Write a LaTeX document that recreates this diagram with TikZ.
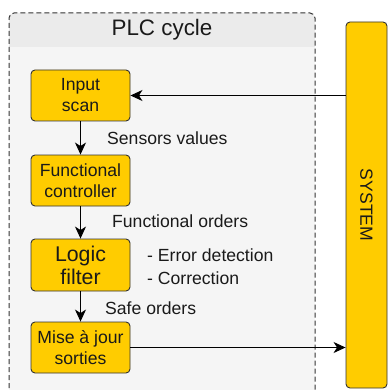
\documentclass[tikz,border=0pt]{standalone}
\usepackage{fontspec}
\setmainfont{Liberation Sans}
\usetikzlibrary{arrows.meta}
\definecolor{boxfill}{HTML}{FFCC00}
\definecolor{boxline}{HTML}{333333}
\definecolor{txt}{HTML}{1A1A1A}
\definecolor{headfill}{HTML}{EBEBEB}
\definecolor{bodyfill}{HTML}{F5F5F5}
\tikzset{
  stepbox/.style={draw=boxline, fill=boxfill, rounded corners=4pt, line width=0.9pt,
    minimum width=99pt, minimum height=51pt, inner sep=0pt, align=center,
    text=txt, font=\fontsize{17.6}{21}\selectfont},
  lbl/.style={anchor=west, inner sep=0pt, text=txt, font=\fontsize{17.6}{23}\selectfont, align=left},
  flow/.style={draw=black, line width=1pt, -{Stealth[length=12pt,width=11pt,inset=3.5pt]}},
}
\begin{document}
\begin{tikzpicture}[x=1pt,y=-1pt]
\useasboundingbox (0,0) rectangle (388,390);
\clip (0,0) rectangle (388,390);
% container
\fill[bodyfill, rounded corners=5pt] (9,13) rectangle (315,420);
\fill[headfill, rounded corners=5pt] (9,13) -- (315,13) -- (315,47) -- (9,47) -- cycle;
\fill[headfill] (9,25) rectangle (315,47);
\draw[black!80, line width=1pt, dash pattern=on 5pt off 3pt, rounded corners=5pt]
  (9,420) -- (9,13) -- (315,13) -- (315,420);
\node[text=txt, font=\fontsize{22.4}{26}\selectfont, inner sep=0pt] (title) at (162,30) {PLC cycle};
% boxes
\node[stepbox] (in) at (80.5,95.5) {Input\\scan};
\node[stepbox] (fc) at (80.5,180.5) {Functional\\controller};
\node[stepbox, minimum height=52pt, font=\fontsize{21.3}{23}\selectfont] (lf) at (80.5,265) {Logic\\filter};
\node[stepbox] (ms) at (80.5,347.5) {Mise à jour\\sorties};
\node[draw=boxline, fill=boxfill, rounded corners=4pt, line width=0.9pt,
  minimum width=366pt, minimum height=41pt, inner sep=0pt, rotate=-90,
  text=txt, font=\fontsize{17.6}{21}\selectfont] (sys) at (366.5,205) {SYSTEM};
% arrows
\draw[flow] (in.south) -- (fc.north);
\draw[flow] (fc.south) -- (lf.north);
\draw[flow] (lf.south) -- (ms.north);
\coordinate (sysin) at (sys.south |- in.east);
\coordinate (sysout) at (sys.south |- ms.east);
\draw[flow] (sysin) -- (in.east);
\draw[flow] (ms.east) -- (sysout);
% labels
\node[lbl] (l1) at (107,138) {Sensors values};
\node[lbl] (l2) at (112,221) {Functional orders};
\node[lbl] (l3) at (147,266.5) {- Error detection\\- Correction};
\node[lbl] (l4) at (105,308) {Safe orders};
\end{tikzpicture}
\end{document}
